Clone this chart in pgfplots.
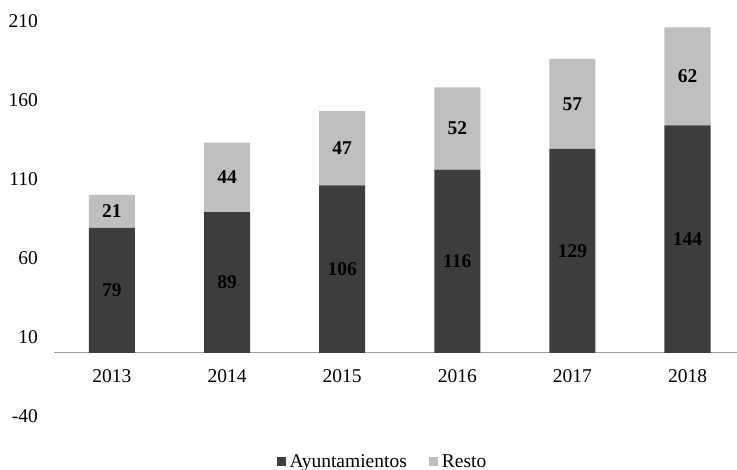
\documentclass[border=0pt]{standalone}
\usepackage{pgfplots}
\pgfplotsset{compat=1.18}
\usepackage{fontspec}
\setmainfont{Liberation Serif}
\definecolor{darkbar}{HTML}{3D3D3D}
\definecolor{lightbar}{HTML}{BFBFBF}
\pgfplotstableread{
x y lab
0 39.5 79
1 44.5 89
2 53 106
3 58 116
4 64.5 129
5 72 144
0 89.5 21
1 111 44
2 129.5 47
3 142 52
4 157.5 57
5 175 62
}\labels
\begin{document}
\fontsize{19.5bp}{22bp}\selectfont
\begin{tikzpicture}
\begin{axis}[
  scale only axis, width=682.6bp, height=395bp,
  at={(0,0)}, anchor=south west,
  ybar stacked, bar width=0.4,
  xmin=-0.5, xmax=5.43, ymin=-40, ymax=210,
  axis x line*=middle, axis y line*=left,
  x axis line style={draw=black!38, line width=1.2bp},
  y axis line style={draw=none},
  xtick={0,1,2,3,4,5},
  xticklabels={2013,2014,2015,2016,2017,2018},
  ytick={-40,10,60,110,160,210},
  major tick length=0pt,
  tick style={draw=none},
  /pgf/number format/assume math mode=true,
  /pgf/number format/1000 sep={},
  xticklabel style={anchor=north, inner sep=0pt, yshift=-17bp},
  yticklabel style={anchor=east, inner sep=0pt, xshift=-16.4bp},
  clip=false,
  legend columns=2,
  legend style={at={(axis description cs:0.482,-0.117)}, anchor=center, draw=none, fill=none,
    /tikz/every even column/.append style={column sep=18bp},
    nodes={inner sep=0pt, inner xsep=4bp}},
  legend image code/.code={\fill[#1] (0bp,-3.5bp) rectangle (9bp,5.5bp);},
]
\addplot[fill=darkbar, draw=none] coordinates {(0,79) (1,89) (2,106) (3,116) (4,129) (5,144)};
\addplot[fill=lightbar, draw=none] coordinates {(0,21) (1,44) (2,47) (3,52) (4,57) (5,62)};
\legend{Ayuntamientos, Resto}
\end{axis}
\begin{axis}[
  scale only axis, width=682.6bp, height=395bp,
  at={(0,0)}, anchor=south west,
  xmin=-0.5, xmax=5.43, ymin=-40, ymax=210,
  hide axis, clip=false,
]
\addplot[only marks, mark=none, point meta=explicit symbolic,
  nodes near coords,
  every node near coord/.append style={anchor=center, inner sep=0pt, font=\bfseries}]
  table[x=x, y=y, meta=lab] {\labels};
\end{axis}
\pgfresetboundingbox
\path (-54.4bp,-54bp) rectangle (682.6bp,416bp);
\end{tikzpicture}
\end{document}
